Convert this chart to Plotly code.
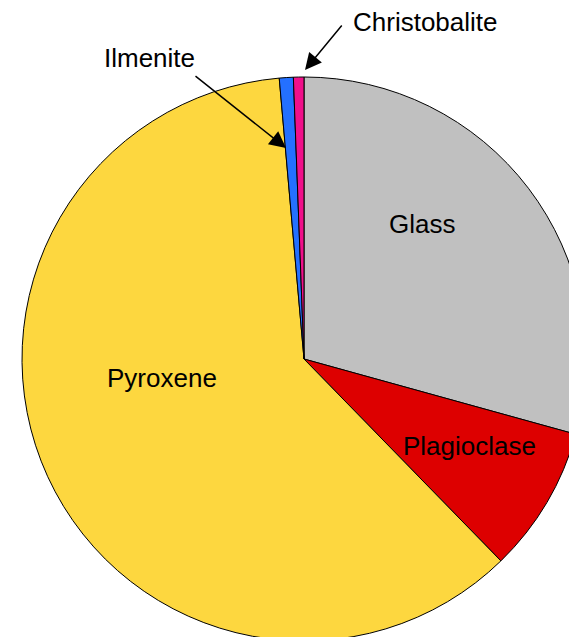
import plotly.graph_objects as go

# mineral modes (%), clockwise from 12 o'clock
minerals = ['Glass', 'Plagioclase', 'Pyroxene', 'Ilmenite', 'Christobalite']
percent = [29.3, 8.4, 60.9, 0.8, 0.6]
colors = ['#C0C0C0', '#DD0000', '#FDD73F', '#2470FF', '#F0108A']

W, H = 600, 680
font = dict(family='Liberation Sans, Arial, sans-serif', size=26, color='#000000')


def px(x, y):
    return x / W, 1 - y / H


fig = go.Figure()
fig.add_trace(
    go.Pie(
        labels=minerals,
        values=percent,
        sort=False,
        direction='clockwise',
        rotation=0,
        marker=dict(colors=colors, line=dict(color='#000000', width=1)),
        textinfo='none',
        hoverinfo='label+percent',
        showlegend=False,
        domain=dict(x=[22 / W, 586 / W], y=[(H - 641) / H, (H - 77) / H]),
    )
)

# labels placed where the original had them
label_pos = {
    'Glass': (422, 224),
    'Pyroxene': (162, 378),
    'Plagioclase': (469, 446),
    'Ilmenite': (149, 58),
    'Christobalite': (425, 22),
}
for name, (lx, ly) in label_pos.items():
    x, y = px(lx, ly)
    fig.add_annotation(x=x, y=y, xref='paper', yref='paper', text=name,
                       showarrow=False, font=font, xanchor='center', yanchor='middle')

# arrows: tip, tail (pixels)
arrows = [((286, 148), (194, 75)), ((305, 70), (343, 24))]
for (tx, ty), (sx, sy) in arrows:
    x, y = px(tx, ty)
    fig.add_annotation(x=x, y=y, xref='paper', yref='paper', text='',
                       showarrow=True, ax=sx - tx, ay=sy - ty,
                       arrowhead=2, arrowsize=2.2, arrowwidth=1.5, arrowcolor='#000000')

fig.update_layout(
    width=W, height=H,
    margin=dict(l=0, r=0, t=0, b=0),
    paper_bgcolor='#FFFFFF',
    plot_bgcolor='#FFFFFF',
    font=font,
)

fig.write_html("out.html", config={'displayModeBar': False},
               post_script="document.body.style.margin='0';document.body.style.overflow='hidden';")
